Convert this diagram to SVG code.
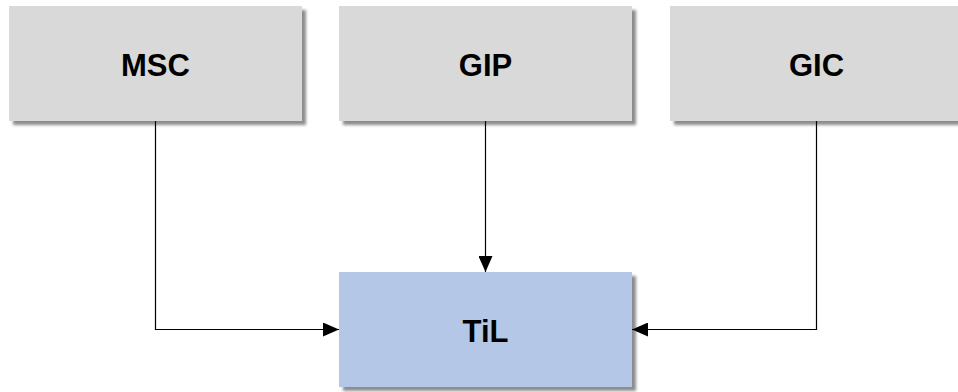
<svg xmlns="http://www.w3.org/2000/svg" width="958" height="392" viewBox="0 0 958 392">
  <defs>
    <filter id="shadow" x="-10%" y="-10%" width="125%" height="130%">
      <feDropShadow dx="4" dy="4" stdDeviation="1.6" flood-color="#000" flood-opacity="0.45"/>
    </filter>
    <marker id="arrow" viewBox="0 0 16 14" refX="16" refY="7" markerWidth="16" markerHeight="14" markerUnits="userSpaceOnUse" orient="auto">
      <path d="M0,0 L16,7 L0,14 Z" fill="#000"/>
    </marker>
    <style>
      .box { stroke: none; filter: url(#shadow); }
      .grey { fill: #d9d9d9; }
      .blue { fill: #b4c7e7; }
      .label { font-family: "Liberation Sans", Arial, sans-serif; font-weight: bold; font-size: 31px; fill: #000; text-anchor: middle; }
      .conn { fill: none; stroke: #000; stroke-width: 1.2; marker-end: url(#arrow); }
    </style>
  </defs>
  <rect width="958" height="392" fill="#fff"/>
  <g id="connectors">
    <path class="conn" d="M155.5,121 V329.5 H339"/>
    <path class="conn" d="M485.5,121 V272"/>
    <path class="conn" d="M816.5,121 V329.5 H632"/>
  </g>
  <g id="node-msc">
    <rect class="box grey" x="9" y="6" width="293" height="115"/>
    <text class="label" x="155.5" y="75.5">MSC</text>
  </g>
  <g id="node-gip">
    <rect class="box grey" x="339" y="6" width="293" height="115"/>
    <text class="label" x="485.5" y="75.5">GIP</text>
  </g>
  <g id="node-gic">
    <rect class="box grey" x="670" y="6" width="293" height="115"/>
    <text class="label" x="816.5" y="75.5">GIC</text>
  </g>
  <g id="node-til">
    <rect class="box blue" x="339" y="272" width="293" height="115"/>
    <text class="label" x="485.5" y="341.5">TiL</text>
  </g>
</svg>
